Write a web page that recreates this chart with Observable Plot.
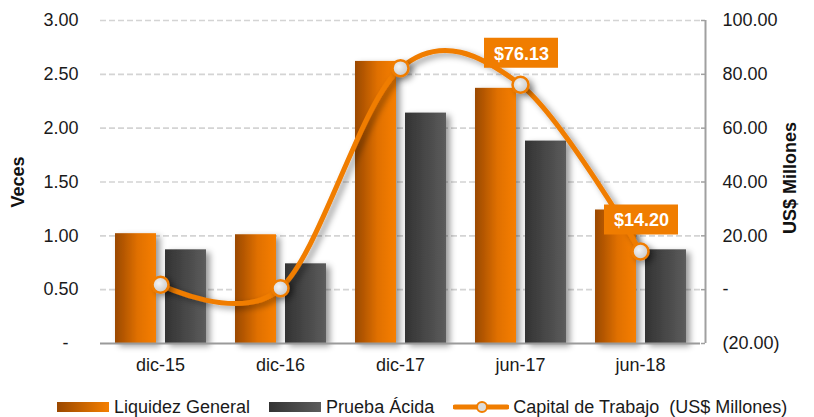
<!DOCTYPE html>
<html>
<head>
<meta charset="utf-8">
<script src="https://cdn.jsdelivr.net/npm/d3@7"></script>
<script src="https://cdn.jsdelivr.net/npm/@observablehq/plot@0.6"></script>
<style>
  html, body { margin: 0; padding: 0; background: #fff; }
  body { width: 814px; height: 417px; overflow: hidden; font-family: "Liberation Sans", Arial, sans-serif; }
  #legend { display: flex; align-items: center; height: 22px; margin-top: 11px; padding-left: 57px; font-size: 18px; color: #1a1a1a; }
  #legend .item { display: flex; align-items: center; margin-right: 19px; }
  #legend .sw { width: 52px; height: 10px; margin-right: 5px; }
  #legend svg { margin-right: 4px; }
</style>
</head>
<body>
<div id="chart"></div>
<div id="legend">
  <div class="item"><div class="sw" style="background: linear-gradient(to right, #9a4800, #f57f00);"></div><span>Liquidez General</span></div>
  <div class="item"><div class="sw" style="background: linear-gradient(to right, #333333, #5c5c5c);"></div><span>Prueba Ácida</span></div>
  <div class="item"><svg width="56" height="16"><line x1="2" y1="8" x2="54" y2="8" stroke="#f07d00" stroke-width="5" stroke-linecap="round"/><circle cx="29" cy="8" r="5" fill="#dcdcdc" stroke="#f07d00" stroke-width="2"/></svg><span>Capital de Trabajo&nbsp; (US$ Millones)</span></div>
</div>
<script>
const categories = ["dic-15", "dic-16", "dic-17", "jun-17", "jun-18"];
const liquidez = [1.02, 1.01, 2.62, 2.37, 1.24];
const prueba = [0.87, 0.74, 2.14, 1.88, 0.87];
const capital = [1.8, 0.5, 82.3, 76.13, 14.20];
const labeledCats = ["jun-17", "jun-18"];
const leftTicks = [0, 0.5, 1, 1.5, 2, 2.5, 3];
const rightTicks = [-20, 0, 20, 40, 60, 80, 100];
const rightMin = -20, rightMax = 100, leftMax = 3;

const toLeft = v => (v - rightMin) / (rightMax - rightMin) * leftMax;
const rows = categories.map((c, i) => ({cat: c, liq: liquidez[i], pru: prueba[i], cap: capital[i], capL: toLeft(capital[i])}));
const labelRows = rows.filter(d => labeledCats.includes(d.cat));
const fmtLeft = v => v === 0 ? "-\u00a0\u00a0" : v.toFixed(2);
const fmtRight = v => v === 0 ? "-" : v < 0 ? "(" + Math.abs(v).toFixed(2) + ")" : v.toFixed(2);
const ORANGE = "#f07d00";

const svg = Plot.plot({
  width: 814,
  height: 385,
  marginLeft: 100,
  marginRight: 114,
  marginTop: 20,
  marginBottom: 42,
  style: {fontFamily: "Liberation Sans, Arial, sans-serif", fontSize: "18px", color: "#1a1a1a", background: "#fff"},
  x: {type: "band", domain: categories, padding: 0, tickSize: 0, tickPadding: 15, label: null},
  y: {domain: [0, leftMax], ticks: leftTicks, tickFormat: fmtLeft, tickSize: 0, tickPadding: 22, label: null},
  marks: [
    Plot.ruleY(leftTicks.filter(t => t > 0), {stroke: "#d4d4d4", strokeWidth: 1.6, strokeDasharray: "6,3"}),
    Plot.barY(rows, {x: "cat", y: "liq", fill: "#f07d00", insetLeft: 15, insetRight: 64}),
    Plot.barY(rows, {x: "cat", y: "pru", fill: "#474747", insetLeft: 65, insetRight: 14}),
    Plot.ruleY([0], {stroke: "#9a9a9a", strokeWidth: 2}),
    Plot.ruleX(["jun-18"], {x: d => d, y1: 0, y2: leftMax, dx: 65, stroke: "#a0a0a0", strokeWidth: 2}),
    Plot.tickY(rightTicks, {x: () => "jun-18", y: d => toLeft(d), insetLeft: 121, insetRight: -5, stroke: "#a0a0a0", strokeWidth: 1.5}),
    Plot.text(rightTicks, {y: d => toLeft(d), text: fmtRight, frameAnchor: "right", textAnchor: "start", dx: 22, fontSize: 18, fill: "#1a1a1a"}),
    Plot.text(["Veces"], {text: d => d, frameAnchor: "left", textAnchor: "middle", dx: -82, rotate: -90, fontWeight: "bold", fontSize: 18, fill: "#111"}),
    Plot.text(["US$ Millones"], {text: d => d, frameAnchor: "right", textAnchor: "middle", dx: 90, dy: -4, rotate: -90, fontWeight: "bold", fontSize: 18, fill: "#111"}),
    Plot.line(rows, {x: "cat", y: "capL", stroke: ORANGE, strokeWidth: 5, curve: "cardinal"}),
    Plot.dot(rows, {x: "cat", y: "capL", r: 8, fill: "#dcdcdc", stroke: ORANGE, strokeWidth: 2.5}),
    Plot.tickY(labelRows, {x: "cat", y: "capL", dy: -32, insetLeft: 24, insetRight: 22, stroke: ORANGE, strokeWidth: 30}),
    Plot.text(labelRows, {x: "cat", y: "capL", dy: -31, dx: 1, text: d => "$" + d.cap.toFixed(2), fill: "#fff", fontWeight: "bold", fontSize: 18})
  ]
});

// gradients and shadows
const ns = "http://www.w3.org/2000/svg";
const defs = document.createElementNS(ns, "defs");
defs.innerHTML = `
  <linearGradient id="gOrange" x1="0" x2="1" y1="0" y2="0">
    <stop offset="0" stop-color="#9a4800"/><stop offset="0.55" stop-color="#e07000"/><stop offset="1" stop-color="#f77f00"/>
  </linearGradient>
  <linearGradient id="gGray" x1="0" x2="1" y1="0" y2="0">
    <stop offset="0" stop-color="#333333"/><stop offset="1" stop-color="#5c5c5c"/>
  </linearGradient>
  <radialGradient id="gDot" cx="0.4" cy="0.4" r="0.7">
    <stop offset="0" stop-color="#f4f4f4"/><stop offset="1" stop-color="#c4c4c4"/>
  </radialGradient>
  <filter id="shadow" x="-30%" y="-30%" width="160%" height="160%">
    <feDropShadow dx="4" dy="3" stdDeviation="3" flood-color="#000" flood-opacity="0.4"/>
  </filter>`;
svg.insertBefore(defs, svg.firstChild);
const bars = svg.querySelectorAll('g[aria-label="bar"]');
if (bars[0]) { bars[0].setAttribute("fill", "url(#gOrange)"); bars[0].setAttribute("filter", "url(#shadow)"); }
if (bars[1]) { bars[1].setAttribute("fill", "url(#gGray)"); bars[1].setAttribute("filter", "url(#shadow)"); }
const line = svg.querySelector('g[aria-label="line"]');
if (line) line.setAttribute("filter", "url(#shadow)");
const dots = svg.querySelector('g[aria-label="dot"]');
if (dots) { dots.setAttribute("fill", "url(#gDot)"); dots.querySelectorAll("circle").forEach(c => c.setAttribute("fill", "url(#gDot)")); dots.setAttribute("filter", "url(#shadow)"); }

document.getElementById("chart").appendChild(svg);
</script>
</body>
</html>
